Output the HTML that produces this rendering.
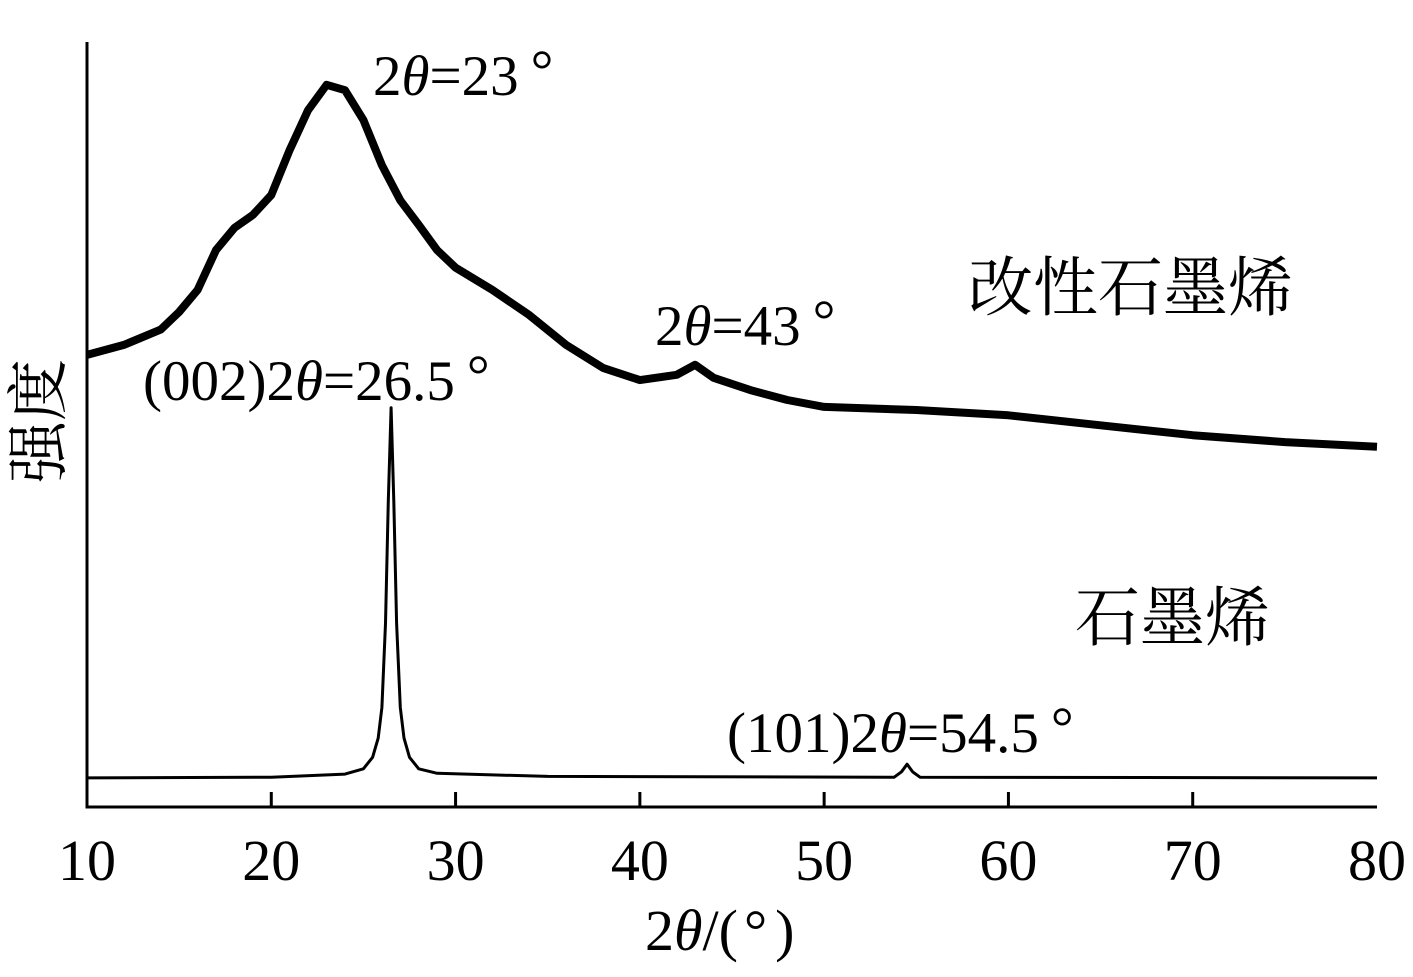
<!DOCTYPE html>
<html><head><meta charset="utf-8"><style>
html,body{margin:0;padding:0;background:#fff;}
svg text{font-family:"Liberation Serif","Noto Serif CJK SC",serif;fill:#000;}
</style></head><body>
<svg id="chart" width="1413" height="972" viewBox="0 0 1413 972" xmlns="http://www.w3.org/2000/svg">
<g id="axes"></g>
<g id="series"></g>
<text transform="translate(60,421) rotate(-90)" text-anchor="middle" font-size="62" font-family="'Noto Serif CJK SC',serif">强度</text>
<text x="645" y="950" font-size="58">2<tspan font-style="italic">θ</tspan>/(<tspan dx="6">°</tspan><tspan dx="8">)</tspan></text>
<text x="373" y="95" font-size="57">2<tspan font-style="italic">θ</tspan>=23<tspan dx="12" dy="-6">°</tspan></text>
<text x="655" y="345" font-size="57">2<tspan font-style="italic">θ</tspan>=43<tspan dx="12" dy="-6">°</tspan></text>
<text x="143" y="400" font-size="57">(002)2<tspan font-style="italic">θ</tspan>=26.5<tspan dx="12" dy="-6">°</tspan></text>
<text x="727" y="752" font-size="57">(101)2<tspan font-style="italic">θ</tspan>=54.5<tspan dx="12" dy="-6">°</tspan></text>
<text x="968" y="310" font-size="65" font-family="'Noto Serif CJK SC',serif">改性石墨烯</text>
<text x="1075" y="640" font-size="65" font-family="'Noto Serif CJK SC',serif">石墨烯</text>
</svg>
<script>
const xTicks = [10,20,30,40,50,60,70,80];
const modX = [10,12,14,15,16,17,18,19,20,21,22,23,24,25,26,27,28,29,30,32,34,36,38,40,42,43,44,46,48,50,55,60,65,70,75,80];
const modY = [59.1,60.4,62.4,64.7,67.6,72.8,75.7,77.4,80.0,85.9,91.1,94.4,93.7,89.8,83.9,79.3,76.1,72.8,70.5,67.6,64.3,60.4,57.4,55.8,56.5,57.8,56.1,54.5,53.2,52.3,51.9,51.2,49.9,48.6,47.7,47.1];
const graX = [10,20,24,25,25.5,25.8,26,26.2,26.35,26.5,26.65,26.8,27,27.2,27.5,28,29,35,53.8,54.2,54.5,54.8,55.2,80];
const graY = [3.8,3.9,4.3,5,6.5,9,13,24,40,52.2,40,24,13,9,6.5,5,4.4,4.0,3.9,4.6,5.6,4.6,3.9,3.8];

const X0=87, X1=1377, Y0=807, Y1=42;
const sx = v => X0 + (v-10)/(80-10)*(X1-X0);
const sy = v => Y0 - v/100*(Y0-Y1);
const NS="http://www.w3.org/2000/svg";
const axes=document.getElementById('axes');
const series=document.getElementById('series');

let ax=document.createElementNS(NS,'path');
ax.setAttribute('d',`M${X0},${Y1} L${X0},${Y0} L${X1},${Y0}`);
ax.setAttribute('fill','none');ax.setAttribute('stroke','#000');ax.setAttribute('stroke-width','3');


axes.appendChild(ax);
xTicks.forEach(t=>{
  const x=sx(t);
  if(t>10 && t<80){
    const l=document.createElementNS(NS,'line');
    l.setAttribute('x1',x);l.setAttribute('x2',x);l.setAttribute('y1',Y0);l.setAttribute('y2',Y0-15);
    l.setAttribute('stroke','#000');l.setAttribute('stroke-width','3');
    
    
    axes.appendChild(l);
  }
  const tx=document.createElementNS(NS,'text');
  tx.setAttribute('x',x);tx.setAttribute('y',880);tx.setAttribute('text-anchor','middle');tx.setAttribute('font-size','58');
  tx.textContent=t;
  
  
  axes.appendChild(tx);
});
function line(xs,ys,w){
  const p=document.createElementNS(NS,'path');
  p.setAttribute('d',xs.map((v,i)=>(i?'L':'M')+sx(v).toFixed(1)+','+sy(ys[i]).toFixed(1)).join(' '));
  p.setAttribute('fill','none');p.setAttribute('stroke','#000');p.setAttribute('stroke-width',w);
  p.setAttribute('stroke-linejoin','round');
  series.appendChild(p);return p;
}
const pm=line(modX,modY,8);


const pg=line(graX,graY,3);


</script>
</body></html>
